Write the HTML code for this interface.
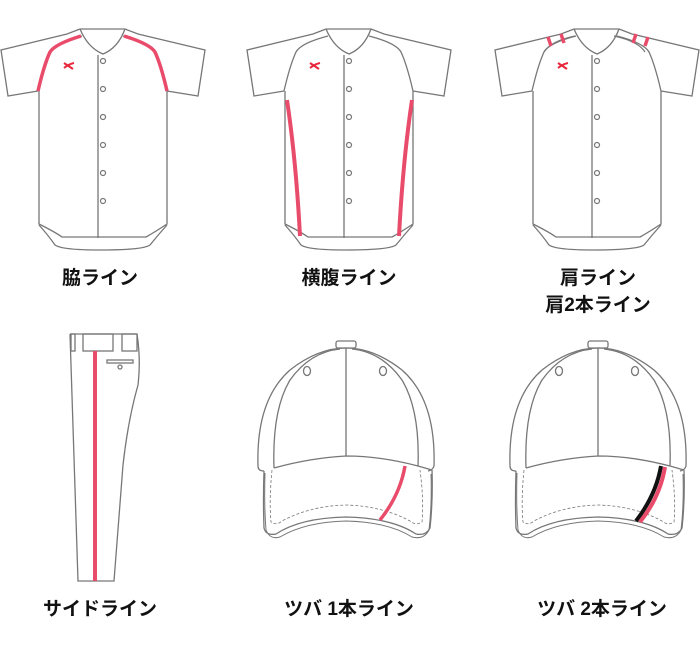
<!DOCTYPE html>
<html><head><meta charset="utf-8"><style>
html,body{margin:0;padding:0;background:#fff;}
svg{display:block;}
text{font-family:"Liberation Sans","Noto Sans CJK JP",sans-serif;font-weight:bold;font-size:19px;fill:#111;text-anchor:middle;}
</style></head><body>
<svg width="700" height="657" viewBox="0 0 700 657" xmlns="http://www.w3.org/2000/svg">
<defs>
<g id="jersey" fill="none" stroke="#777" stroke-width="1.3">
  <path d="M80,29 L125,29" />
  <path d="M80,29 Q88,48 103,54 Q118,48 125,29" />
  <path d="M80,29 L67,34 L1,50 L8,96 L38,91" />
  <path d="M125,29 L138,34 L205,50 L198,96 L167,91" />
  <path d="M82,36 Q55,43 50,52 Q44,65 38,91" />
  <path d="M123,36 Q150,43 155,52 Q161,65 167,91" />
  <path d="M39,91 L39,224 Q55,232 62,237 L146,237 Q155,232 167,224 L167,91" />
  <path d="M39,225 Q48,235 55,245 Q62,250 100,250 Q143,250 150,245 Q158,235 167,225" />
  <path d="M98,55 L98,238" />
  <g stroke-width="1.2">
    <circle cx="103" cy="61" r="2.5"/><circle cx="103" cy="89" r="2.5"/><circle cx="103" cy="117" r="2.5"/>
    <circle cx="103" cy="145" r="2.5"/><circle cx="103" cy="173" r="2.5"/><circle cx="103" cy="201" r="2.5"/>
  </g>
  <path d="M64,63 L73,69 M64,68 Q69,64 74,63" stroke="#e8283c" stroke-width="2"/>
</g>
<g id="cap" fill="none" stroke="#777" stroke-width="1.3">
  <rect x="336" y="341" width="20" height="7" rx="2"/>
  <path d="M258,466 Q256,400 290,370 Q318,348 346,348 Q374,348 402,370 Q436,400 434,466 Q433,470 428,471" />
  <path d="M258,466 Q258,471 264,471" />
  <path d="M274,468 Q272,410 290,380 Q310,352 340,349" />
  <path d="M418,466 Q420,410 402,380 Q382,352 352,349" />
  <path d="M346,348 L346,456" />
  <path d="M274,468 Q310,458 346,456 Q380,456 418,466 L432,470" />
  <ellipse cx="307" cy="371" rx="3.5" ry="4.5"/>
  <ellipse cx="383" cy="371" rx="3.5" ry="4.5"/>
  <path d="M264,471 Q263,500 264,528 Q266,536 276,534 Q300,518 346,517 Q392,518 416,534 Q426,536 430,528 Q433,500 432,470" />
  <path d="M265,473 Q264,505 266,530 Q270,540 280,537 Q305,522 346,521 Q388,522 412,537 Q424,540 429,530 Q432,505 431,474" stroke-width="1"/>
  <path d="M272,470 Q269,500 271,522 Q276,526 282,521 Q310,506 346,505 Q382,506 410,521 Q416,526 422,522 Q424,500 420,470" stroke-dasharray="3,2" stroke-width="0.8"/>
</g>
</defs>

<use href="#jersey"/>
<path d="M81,36 Q55,44 50,52 Q44,65 38,91" fill="none" stroke="#e94b6b" stroke-width="3.5"/>
<path d="M124,36 Q150,44 155,52 Q161,65 167,91" fill="none" stroke="#e94b6b" stroke-width="3.5"/>

<g transform="translate(246,0)"><use href="#jersey"/></g>
<path d="M287,100 Q296,160 300,236" fill="none" stroke="#e94b6b" stroke-width="4"/>
<path d="M412,100 Q403,160 399,236" fill="none" stroke="#e94b6b" stroke-width="4"/>

<g transform="translate(494,0)"><use href="#jersey"/></g>
<path d="M575,36 Q551,41 544,52" fill="none" stroke="#777" stroke-width="1.2"/>
<path d="M614,36 Q638,41 645,52" fill="none" stroke="#777" stroke-width="1.2"/>
<path d="M548,37 L551,46 M561,34 L564,43" stroke="#e94b6b" stroke-width="3.5"/>
<path d="M636,34 L633,43 M648,37 L645,46" stroke="#e94b6b" stroke-width="3.5"/>

<text x="100" y="284">脇ライン</text>
<text x="349" y="284">横腹ライン</text>
<text x="598" y="284">肩ライン</text>
<text x="598" y="311">肩2本ライン</text>

<g fill="none" stroke="#777" stroke-width="1.3">
  <path d="M70,334 L137,334" />
  <path d="M70,334 L78,581 L114,581 L123,465 Q128,420 138,385 Q141,360 137,334" />
  <rect x="71" y="334" width="4" height="17"/>
  <rect x="83" y="334" width="30" height="17"/>
  <rect x="122" y="334" width="15" height="17"/>
  <rect x="107" y="360" width="26" height="3"/>
  <circle cx="120" cy="367" r="2"/>
</g>
<path d="M95,351 L95,581" stroke="#e94b6b" stroke-width="4"/>

<use href="#cap"/>
<path d="M405,466 Q400,495 380,520" fill="none" stroke="#e94b6b" stroke-width="3.5"/>

<g transform="translate(252,0)"><use href="#cap"/></g>
<path d="M661,466 Q656,495 636,521" fill="none" stroke="#111" stroke-width="4"/>
<path d="M665,467 Q660,497 640,522" fill="none" stroke="#e94b6b" stroke-width="4"/>

<text x="100" y="615">サイドライン</text>
<text x="349" y="615">ツバ 1本ライン</text>
<text x="602" y="615">ツバ 2本ライン</text>
</svg>
</body></html>
